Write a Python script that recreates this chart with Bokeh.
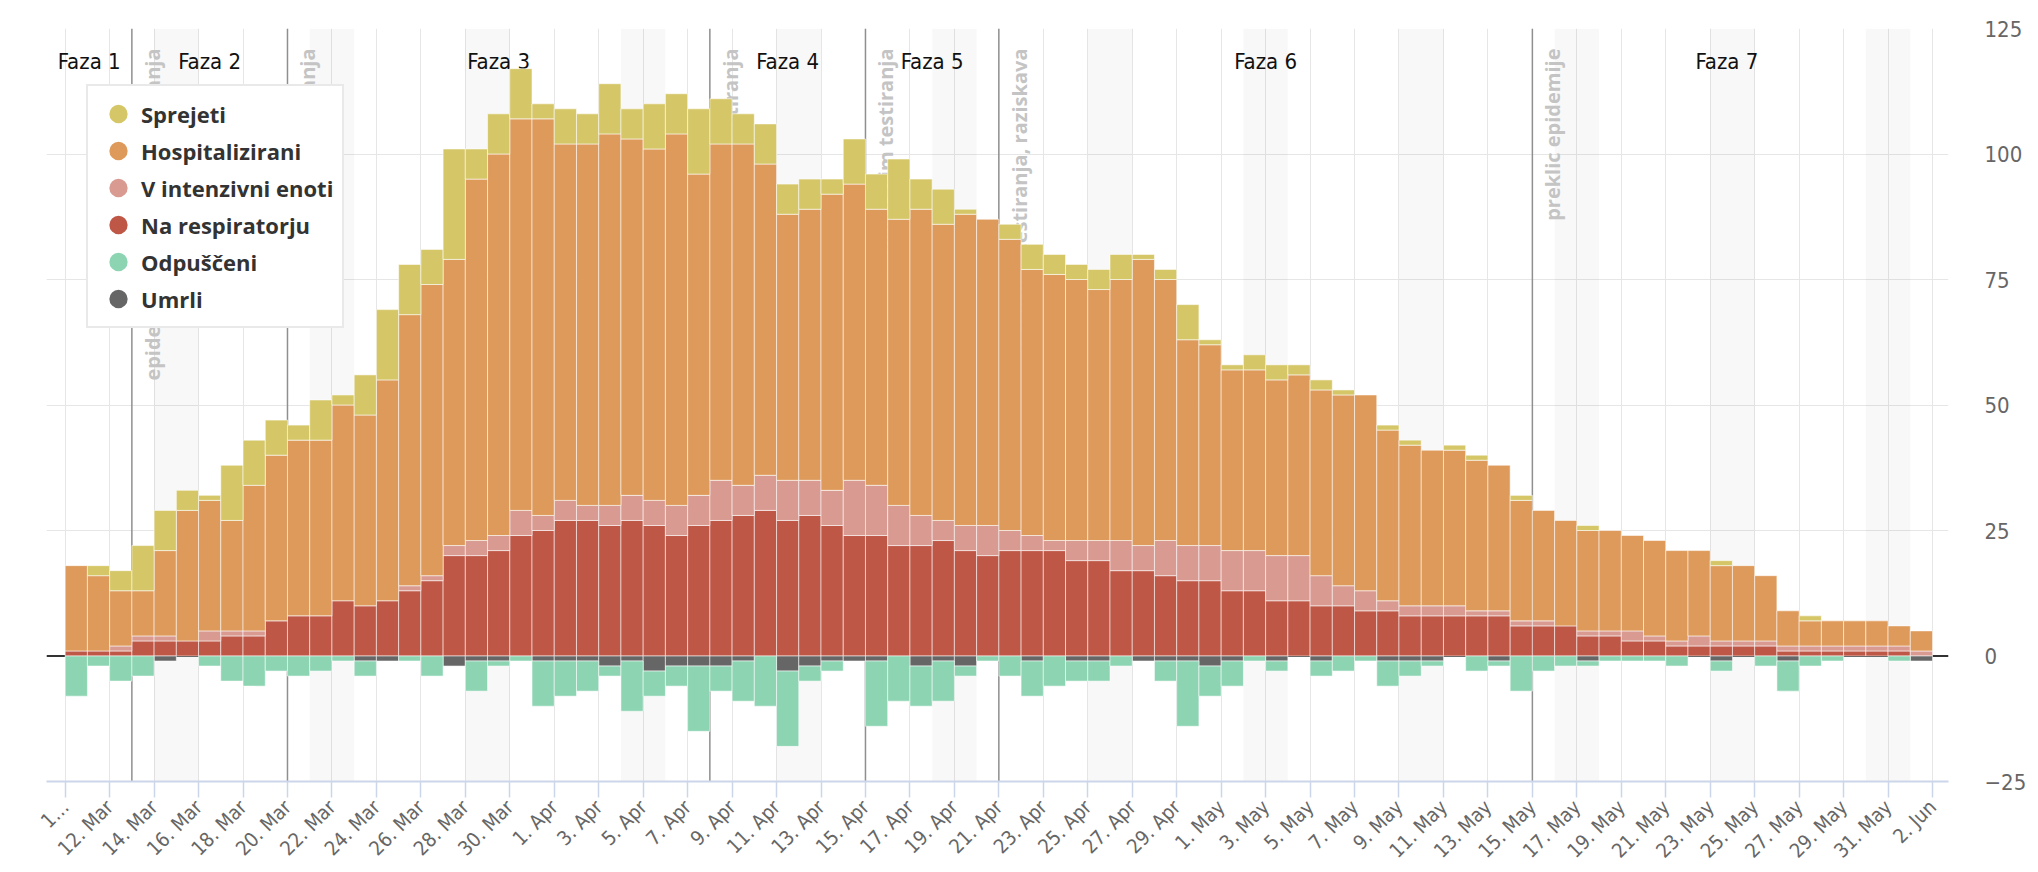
import math
import numpy as np
import pandas as pd
from bokeh.plotting import figure
from bokeh.models import (ColumnDataSource, Range1d, FixedTicker, DatetimeTickFormatter,
                          BoxAnnotation, Span, Legend, LegendItem)
from bokeh.core.properties import value
from bokeh.embed import file_html
from bokeh.resources import INLINE

# ---------------- data ----------------
start_date = "2020-03-10"
sprejeti = [0, 2, 4, 9, 8, 4, 1, 11, 9, 7,
            3, 8, 2, 8, 14, 10, 7, 22, 6, 8,
            10, 3, 7, 6, 10, 6, 9, 8, 13, 9,
            6, 8, 6, 6, 3, 9, 7, 12, 6, 7,
            1, 0, 3, 5, 4, 3, 4, 5, 1, 2,
            7, 1, 1, 3, 3, 2, 2, 1, 0, 1,
            1, 0, 1, 1, 0, 1, 0, 0, 1, 0,
            0, 0, 0, 0, 1, 0, 0, 0, 1, 0,
            0, 0, 0, 0]
hospitalizirani = [18, 16, 13, 13, 21, 29, 31, 27, 34, 40,
                   43, 43, 50, 48, 55, 68, 74, 79, 95, 100,
                   107, 107, 102, 102, 104, 103, 101, 104, 96, 102,
                   102, 98, 88, 89, 92, 94, 89, 87, 89, 86,
                   88, 87, 83, 77, 76, 75, 73, 75, 79, 75,
                   63, 62, 57, 57, 55, 56, 53, 52, 52, 45,
                   42, 41, 41, 39, 38, 31, 29, 27, 25, 25,
                   24, 23, 21, 21, 18, 18, 16, 9, 7, 7,
                   7, 7, 6, 5]
intenzivna = [1, 1, 2, 4, 4, 3, 5, 5, 5, 7,
              8, 8, 11, 10, 11, 14, 16, 22, 23, 24,
              29, 28, 31, 30, 30, 32, 31, 30, 32, 35,
              34, 36, 35, 35, 33, 35, 34, 30, 28, 27,
              26, 26, 25, 24, 23, 23, 23, 23, 22, 23,
              22, 22, 21, 21, 20, 20, 16, 14, 13, 11,
              10, 10, 10, 9, 9, 7, 7, 6, 5, 5,
              5, 4, 3, 4, 3, 3, 3, 2, 2, 2,
              2, 2, 2, 1]
respirator = [1, 1, 1, 3, 3, 3, 3, 4, 4, 7,
              8, 8, 11, 10, 11, 13, 15, 20, 20, 21,
              24, 25, 27, 27, 26, 27, 26, 24, 26, 27,
              28, 29, 27, 28, 26, 24, 24, 22, 22, 23,
              21, 20, 21, 21, 21, 19, 19, 17, 17, 16,
              15, 15, 13, 13, 11, 11, 10, 10, 9, 9,
              8, 8, 8, 8, 8, 6, 6, 6, 4, 4,
              3, 3, 2, 2, 2, 2, 2, 1, 1, 1,
              1, 1, 1, 0]
odpusceni = [8, 2, 5, 4, 0, 0, 2, 5, 6, 3,
             4, 3, 1, 3, 0, 1, 4, 0, 6, 1,
             1, 9, 7, 6, 2, 10, 5, 4, 13, 5,
             8, 10, 15, 3, 2, 0, 13, 9, 8, 8,
             2, 1, 4, 7, 6, 4, 4, 2, 0, 4,
             13, 6, 5, 1, 2, 0, 3, 3, 1, 5,
             3, 1, 0, 3, 1, 7, 3, 2, 1, 1,
             1, 1, 2, 0, 2, 0, 2, 6, 2, 1,
             0, 0, 1, 0]
umrli = [0, 0, 0, 0, 1, 0, 0, 0, 0, 0,
         0, 0, 0, 1, 1, 0, 0, 2, 1, 1,
         0, 1, 1, 1, 2, 1, 3, 2, 2, 2,
         1, 0, 3, 2, 1, 1, 1, 0, 2, 1,
         2, 0, 0, 1, 0, 1, 1, 0, 1, 1,
         1, 2, 1, 0, 1, 0, 1, 0, 0, 1,
         1, 1, 0, 0, 1, 0, 0, 0, 1, 0,
         0, 0, 0, 0, 1, 0, 0, 1, 0, 0,
         0, 0, 0, 1]

phase_names = ["Faza 1", "Faza 2", "Faza 3", "Faza 4", "Faza 5", "Faza 6", "Faza 7"]
phase_bounds = ["2020-03-13", "2020-03-20", "2020-04-08", "2020-04-15", "2020-04-21", "2020-05-15"]
phase_last_end = "2020-06-01 12:00"
event_labels = ["epidemija, sprememba testiranja", "omejitev gibanja",
                "sprememba testiranja", "nov režim testiranja",
                "razširitev testiranja, raziskava", "preklic epidemije"]
y_ticks = [-25, 0, 25, 50, 75, 100, 125]
series_names = ["Sprejeti", "Hospitalizirani", "V intenzivni enoti",
                "Na respiratorju", "Odpuščeni", "Umrli"]
series_colors = ["#d5c768", "#de9a5a", "#d99a91", "#bf5747", "#8cd4b2", "#666666"]

X_START = pd.Timestamp("2020-03-09 03:50")
X_END = pd.Timestamp("2020-06-02 17:15")
Y_MIN, Y_MAX = -25, 125

NARROW = "DejaVu Sans Condensed, Roboto Condensed, Roboto, sans-serif"

# ---------------- derived ----------------
DAY = 86400000.0
n = len(hospitalizirani)
days = pd.date_range(start_date, periods=n, freq="D")
xc = days + pd.Timedelta(hours=12)

adm = np.array(sprejeti, float)
hos = np.array(hospitalizirani, float)
icu = np.array(intenzivna, float)
res = np.array(respirator, float)
odp = np.array(odpusceni, float)
umr = np.array(umrli, float)


def seg(bottom, top):
    t = np.where(np.isclose(top, bottom), np.nan, top)
    return bottom, t


layers = [
    (np.zeros(n), res, series_colors[3]),
    (res, icu, series_colors[2]),
    (icu, hos, series_colors[1]),
    (hos, hos + adm, series_colors[0]),
    (np.zeros(n), -umr, series_colors[5]),
    (-umr, -umr - odp, series_colors[4]),
]


def ms(t):
    return pd.Timestamp(t).value / 1e6


tick_days = pd.date_range(start_date, "2020-06-02", freq="2D")
tick_ms = [ms(t) for t in tick_days]

p = figure(frame_width=1902, frame_height=753,
           x_axis_type="datetime", y_axis_location="right",
           x_range=Range1d(X_START, X_END), y_range=Range1d(Y_MIN, Y_MAX),
           output_backend="svg", toolbar_location=None,
           min_border_left=46, min_border_right=88, min_border_top=28, min_border_bottom=89)
p.background_fill_color = "white"
p.border_fill_color = "white"
p.outline_line_color = None

# grids
p.xgrid.ticker = FixedTicker(ticks=tick_ms)
p.ygrid.ticker = FixedTicker(ticks=y_ticks)
p.xgrid.grid_line_color = "#e6e6e6"
p.ygrid.grid_line_color = "#e6e6e6"

# weekend bands
for d in pd.date_range(X_START.normalize(), X_END, freq="D"):
    if d.weekday() == 5:
        p.add_layout(BoxAnnotation(left=d, right=d + pd.Timedelta(days=2),
                                   fill_color="#000000", fill_alpha=0.027,
                                   line_color=None, level="underlay"))

# zero line
p.add_layout(Span(location=0, dimension="width", line_color="#333333",
                  line_width=2, level="underlay"))

# phase lines
for d in phase_bounds:
    p.add_layout(Span(location=ms(d), dimension="height", line_color="#8f8f8f",
                      line_width=1.5, level="underlay"))

# rotated event labels (below the bars)
p.text(x=[pd.Timestamp(d) for d in phase_bounds], y=[Y_MAX] * len(phase_bounds),
       text=event_labels, angle=math.pi / 2, text_align="right", text_baseline="top",
       x_offset=7, y_offset=20, text_font=value("Open Sans"),
       text_font_style="bold", text_font_size="20px", text_color="#c4c4c4")

# phase names
edges = [X_START] + [pd.Timestamp(d) for d in phase_bounds] + [pd.Timestamp(phase_last_end)]
centers = [edges[i] + (edges[i + 1] - edges[i]) / 2 for i in range(len(phase_names))]
p.text(x=centers, y=[Y_MAX] * len(phase_names), text=phase_names,
       text_align="center", text_baseline="alphabetic", y_offset=33,
       text_font=value(NARROW), text_font_size="22px",
       text_color="#111111")

# bars
for bottom, top, col in layers:
    b, t = seg(bottom, top)
    src = ColumnDataSource(dict(x=xc, bottom=b, top=t))
    p.vbar(x="x", width=DAY, bottom="bottom", top="top", source=src,
           fill_color=col, line_color="white", line_width=1, line_alpha=0.55)

# axes
xa = p.xaxis[0]
xa.ticker = FixedTicker(ticks=tick_ms)
fmt = "%-d. %b"
xa.formatter = DatetimeTickFormatter(days=fmt, months=fmt, hours=fmt, years=fmt,
                                     minutes=fmt, hourmin=fmt, seconds=fmt)
xa.major_label_overrides = {tick_ms[0]: "1…"}
xa.major_label_orientation = math.pi / 4
xa.axis_line_color = "#ccd6eb"
xa.axis_line_width = 2
xa.major_tick_line_color = "#ccd6eb"
xa.major_tick_line_width = 1.5
xa.major_tick_out = 16
xa.major_tick_in = 0
xa.minor_tick_line_color = None
xa.major_label_text_font = NARROW
xa.major_label_text_font_size = "20px"
xa.major_label_text_color = "#666666"
xa.major_label_standoff = 6

ya = p.yaxis[0]
ya.ticker = FixedTicker(ticks=y_ticks)
ya.axis_line_color = None
ya.major_tick_line_color = None
ya.minor_tick_line_color = None
ya.major_label_standoff = 30
ya.major_label_text_font = NARROW
ya.major_label_text_font_size = "22px"
ya.major_label_text_color = "#666666"

# legend with circle markers
items = []
for name, col in zip(series_names, series_colors):
    r = p.scatter(x=[np.nan], y=[np.nan], marker="circle", size=16,
                  fill_color=col, line_color=col, line_width=3.5)
    items.append(LegendItem(label=name, renderers=[r]))
legend = Legend(items=items, location=(40, 453), orientation="vertical",
                glyph_width=42, glyph_height=37, label_height=37, spacing=0, padding=9,
                label_standoff=2, label_text_font="Open Sans",
                label_text_font_style="bold", label_text_font_size="22px",
                label_text_color="#333333", border_line_color="#d4d4d4",
                border_line_width=2, background_fill_color="white",
                background_fill_alpha=1.0)
p.add_layout(legend, "center")

open("out.html", "w").write(file_html(p, INLINE, title="Hospitalizirani"))
